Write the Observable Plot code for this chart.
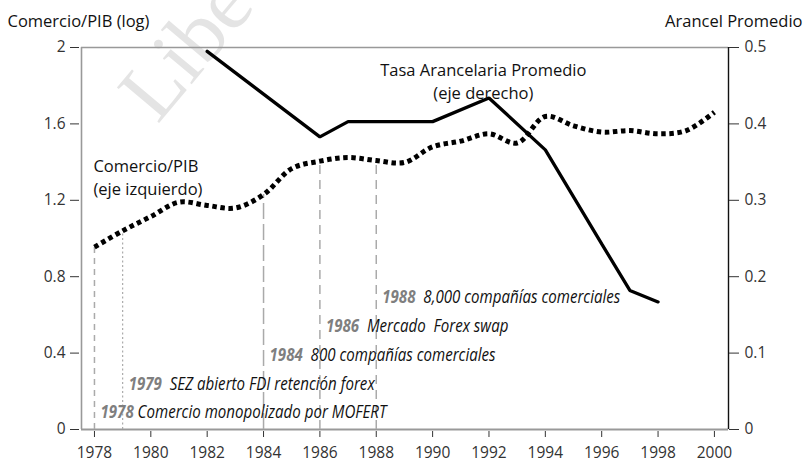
<!DOCTYPE html>
<html>
<head>
<meta charset="utf-8">
<script src="https://cdn.jsdelivr.net/npm/d3@7"></script>
<script src="https://cdn.jsdelivr.net/npm/@observablehq/plot@0.6"></script>
<style>
  html, body { margin: 0; padding: 0; background: #fff; }
  #chart svg { display: block; }
</style>
</head>
<body>
<div id="chart"></div>
<script>
// ---- Data ----
const years = [1978,1979,1980,1981,1982,1983,1984,1985,1986,1987,1988,1989,1990,1991,1992,1993,1994,1995,1996,1997,1998,1999,2000];
const tradeGDP = [0.955,1.04,1.115,1.19,1.173,1.16,1.23,1.366,1.405,1.424,1.408,1.398,1.48,1.51,1.548,1.50,1.639,1.59,1.557,1.565,1.548,1.565,1.661];
const tariffYears = [1982,1986,1987,1990,1992,1994,1996,1997,1998];
const tariffRate = [0.495,0.383,0.403,0.403,0.434,0.366,0.243,0.182,0.167];
const eventYears = [1978,1979,1984,1986,1988];
const eventLabels = [
  "1978 Comercio monopolizado por MOFERT",
  "1979  SEZ abierto FDI retención forex",
  "1984  800 compañías comerciales",
  "1986  Mercado  Forex swap",
  "1988  8,000 compañías comerciales"
];
const leftTicks = [0,0.4,0.8,1.2,1.6,2];
const rightTicks = [0,0.1,0.2,0.3,0.4,0.5];
const xTicks = [1978,1980,1982,1984,1986,1988,1990,1992,1994,1996,1998,2000];
const leftTitle = "Comercio/PIB (log)";
const rightTitle = "Arancel Promedio";
const tradeLabel = "Comercio/PIB\n(eje izquierdo)";
const tariffLabel = "Tasa Arancelaria Promedio\n(eje derecho)";
const watermark = "Libe";

// ---- Layout / style (not data) ----
const eventLevels = [0.092,0.238,0.387,0.539,0.691];      // vertical placement of event texts (left-axis units)
const eventDash = ["6,5","2,2.5","16,5","9,6","9,6"];
const eventWidth = [1.5,1.2,1.5,1.5,1.5];
const tariffScale = 2 / 0.5;                               // right axis 0..0.5 mapped onto left 0..2
const xDomain = [1977.54, 2000.5];
const firstEventWidth = 286;                               // target rendered width of the first event text (px)
const sans = "'Open Sans', 'Noto Sans', sans-serif";

const trade = years.map((y, i) => ({year: y, v: tradeGDP[i]}));
const tariff = tariffYears.map((y, i) => ({year: y, v: tariffRate[i] * tariffScale}));
const events = eventYears.map((y, i) => ({
  year: y, label: eventLabels[i], level: eventLevels[i],
  top: tradeGDP[years.indexOf(y)]
}));

const fmt1 = v => { const r = Math.round(v * 10) / 10; return r === 0 ? "0" : String(r); };

const marks = [
  // watermark
  Plot.text([watermark], {frameAnchor: "top-left", dx: 105, dy: 1, rotate: -50, text: d => d,
    fontSize: 84, fontFamily: "'Liberation Serif', 'DejaVu Serif', serif", fill: "#e4e4e4", textAnchor: "middle", lineAnchor: "middle"}),
  // frame lines
  Plot.ruleY([2], {stroke: "#999", strokeWidth: 1.4}),
  Plot.ruleX([xDomain[0]], {stroke: "#999", strokeWidth: 1.6}),
  Plot.ruleY([0], {stroke: "#999", strokeWidth: 2}),
  Plot.ruleX([xDomain[1]], {stroke: "#111", strokeWidth: 1.4, y1: 0, y2: 2}),
  // event reference lines
  ...events.map((e, i) => Plot.ruleX([e], {x: "year", y1: 0, y2: "top", stroke: "#aaa",
    strokeWidth: eventWidth[i], strokeDasharray: eventDash[i]})),
  // trade / GDP dotted line
  Plot.line(trade, {x: "year", y: "v", curve: "catmull-rom", stroke: "#000", strokeWidth: 5,
    strokeDasharray: "4.5,3.6", strokeLinecap: "butt"}),
  // tariff line
  Plot.line(tariff, {x: "year", y: "v", stroke: "#000", strokeWidth: 3.3, strokeLinejoin: "miter"}),
  // event texts
  Plot.text(events, {x: "year", y: "level", text: "label", textAnchor: "start", lineAnchor: "middle", dx: 6,
    fontSize: 18, fontStyle: "italic", fontFamily: sans, fill: "#111"}),
  // series labels
  Plot.text([tradeLabel], {x: 1978, y: 1.325, text: d => d, textAnchor: "start", lineAnchor: "middle", dx: -1,
    fontSize: 16.5, lineHeight: 1.35, fill: "#111", fontFamily: sans}),
  Plot.text([tariffLabel], {x: 1991.8, y: 1.83, text: d => d, textAnchor: "middle", lineAnchor: "middle",
    fontSize: 16.5, lineHeight: 1.38, fill: "#111", fontFamily: sans}),
  // axis titles
  Plot.text([leftTitle], {frameAnchor: "top-left", dx: -74, dy: -26, text: d => d, textAnchor: "start", lineAnchor: "middle",
    fontSize: 16.5, fill: "#111", fontFamily: sans}),
  Plot.text([rightTitle], {frameAnchor: "top-right", dx: 74, dy: -26, text: d => d, textAnchor: "end", lineAnchor: "middle",
    fontSize: 16.5, fill: "#111", fontFamily: sans}),
  // axes
  Plot.axisY({anchor: "left", ticks: leftTicks, tickFormat: fmt1, tickSize: 9, tickPadding: 5, dx: -2,
    stroke: "#333", fill: "#333", fontSize: 15.5, label: null}),
  Plot.axisY({anchor: "right", ticks: rightTicks.map(t => t * tariffScale), tickFormat: d => fmt1(d / tariffScale),
    tickSize: 10, tickPadding: 6, stroke: "#333", fill: "#333", fontSize: 15.5, label: null}),
  Plot.axisX({ticks: xTicks, tickFormat: d => String(d), tickSize: 6, dy: 2, tickPadding: 9,
    stroke: "#333", fill: "#333", fontSize: 15.5, label: null})
];

const chart = Plot.plot({
  width: 806,
  height: 462,
  marginTop: 47,
  marginBottom: 33,
  marginLeft: 81,
  marginRight: 78,
  x: {domain: xDomain},
  y: {domain: [0, 2]},
  style: {fontFamily: sans, fontSize: "15px", color: "#333", background: "#fff"},
  marks
});

document.getElementById("chart").appendChild(chart);

// Event annotations: grey bold year prefix as tspan, then condense glyphs horizontally via textLength
const eventNodes = [];
d3.select(chart).selectAll("text").each(function () {
  if (this.querySelector("tspan")) return;
  const m = /^(\d{4})(\s+)(.+)$/.exec(this.textContent);
  if (!m) return;
  const el = d3.select(this);
  el.style("white-space", "pre").text(null);
  el.append("tspan").attr("font-weight", "bold").attr("fill", "#7f7f7f").text(m[1]);
  el.append("tspan").text(m[2] + m[3]);
  eventNodes.push(this);
});
if (eventNodes.length) {
  const w0 = eventNodes[0].getComputedTextLength();
  const k = w0 > 0 ? Math.min(1, firstEventWidth / w0) : 1;
  for (const node of eventNodes) {
    const w = node.getComputedTextLength();
    if (w > 0) {
      node.setAttribute("textLength", (w * k).toFixed(1));
      node.setAttribute("lengthAdjust", "spacingAndGlyphs");
    }
  }
}
</script>
</body>
</html>
